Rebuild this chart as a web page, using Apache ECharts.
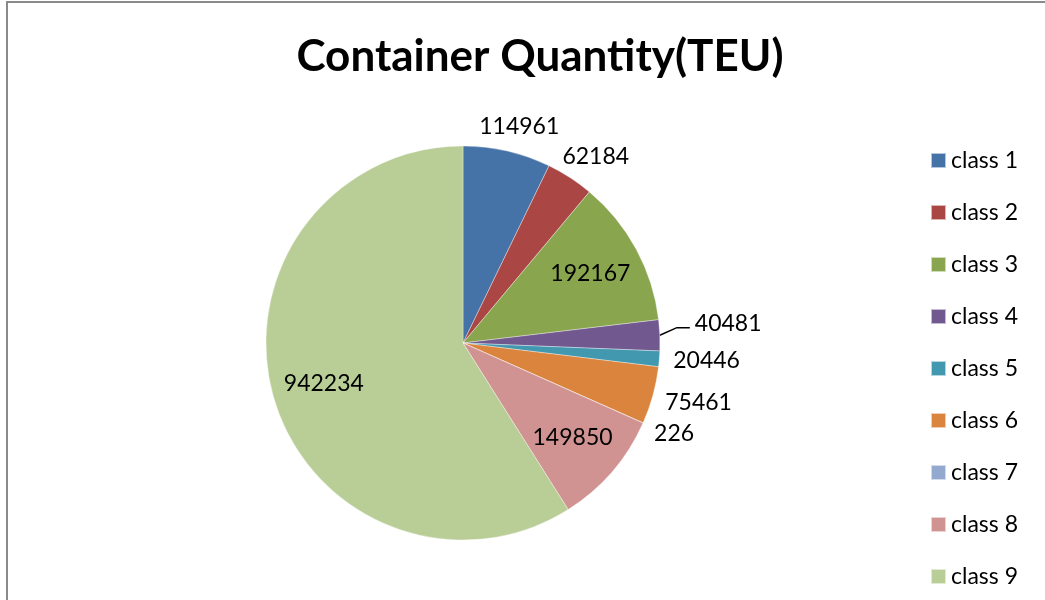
<!DOCTYPE html>
<html>
<head>
<meta charset="utf-8">
<script src="https://cdn.jsdelivr.net/npm/echarts@6/dist/echarts.min.js"></script>
<style>
  html, body { margin: 0; padding: 0; background: #fff; }
  #wrap { position: relative; width: 1045px; height: 600px; overflow: hidden; }
  #chart { width: 1045px; height: 600px; }
  #frame { position: absolute; left: 6px; top: 1px; width: 1200px; height: 800px;
           border-left: 2px solid #8a8a8a; border-top: 2px solid #8a8a8a; pointer-events: none; }
</style>
</head>
<body>
<div id="wrap"><div id="chart"></div><div id="frame"></div></div>
<script>
var titleText = 'Container Quantity(TEU)';
var categories = ['class 1','class 2','class 3','class 4','class 5','class 6','class 7','class 8','class 9'];
var values = [114961, 62184, 192167, 40481, 20446, 75461, 226, 149850, 942234];
var colors = ['#4572A7','#AA4643','#89A54E','#71588F','#4198AF','#DB843D','#93A9CF','#D19392','#B9CD96'];
// which labels Excel drew inside the slice
var insideLabel = [false, false, true, false, false, false, false, true, true];
// which outside label carries a leader line
var leaderLine = [false, false, false, true, false, false, false, false, false];

var FONT = 'Lato';
var CX = 463, CY = 343, R = 197;

var outerData = categories.map(function (c, i) {
  return {
    name: c, value: values[i],
    itemStyle: { color: colors[i] },
    label: { show: !insideLabel[i] },
    labelLine: { show: !insideLabel[i], lineStyle: { opacity: leaderLine[i] ? 1 : 0 } }
  };
});
var innerData = categories.map(function (c, i) {
  return { name: c, value: values[i], label: { show: insideLabel[i] } };
});

var chart = echarts.init(document.getElementById('chart'), null, { renderer: 'canvas' });
chart.setOption({
  animation: false,
  backgroundColor: '#fff',
  color: colors,
  title: {
    text: titleText, left: 535, top: 30, textAlign: 'center',
    textStyle: { fontFamily: FONT, fontWeight: 'bold', fontSize: 44, color: '#000' }
  },
  legend: {
    orient: 'vertical', left: 930, top: 149, padding: 0,
    itemWidth: 15, itemHeight: 15, itemGap: 29, icon: 'rect',
    textStyle: { fontFamily: FONT, fontSize: 23, lineHeight: 23, color: '#000' },
    data: categories
  },
  series: [
    {
      type: 'pie', center: [CX, CY], radius: R, startAngle: 90, clockwise: true,
      avoidLabelOverlap: false,
      itemStyle: { borderColor: 'rgba(255,255,255,0.6)', borderWidth: 0.6 },
      label: { position: 'outside', formatter: '{c}', fontFamily: FONT, fontSize: 23, color: '#000' },
      labelLine: { length: 17, length2: 13, smooth: false, lineStyle: { color: '#000', width: 1.5 } },
      labelLayout: function (p) {
        if (!p.labelLinePoints) return;
        var pts = p.labelLinePoints;
        if (leaderLine[p.dataIndex]) {
          // leader rises from the slice edge, then runs flat under the label's mid-line
          return {
            dy: -11,
            labelLinePoints: [
              [pts[0][0], pts[0][1]],
              [pts[1][0], pts[1][1] - 7],
              [pts[2][0], pts[2][1] - 7]
            ]
          };
        }
        var dx = pts[1][0] - pts[0][0], dy = pts[1][1] - pts[0][1];
        var L = Math.sqrt(dx * dx + dy * dy) || 1; dx /= L; dy /= L;
        var w = p.labelRect.width, h = p.labelRect.height;
        var g = 14;
        return {
          x: pts[0][0] + dx * g + dx * w / 2,
          y: pts[0][1] + dy * g + dy * h / 2,
          align: 'center', verticalAlign: 'middle'
        };
      },
      emphasis: { scale: false },
      data: outerData
    },
    {
      type: 'pie', center: [CX, CY], radius: [R * 0.44, R], startAngle: 90, clockwise: true,
      silent: true, legendHoverLink: false,
      itemStyle: { color: 'rgba(0,0,0,0)' },
      label: { position: 'inside', formatter: '{c}', fontFamily: FONT, fontSize: 23, color: '#000' },
      labelLine: { show: false },
      emphasis: { disabled: true },
      data: innerData
    }
  ]
});
</script>
</body>
</html>
